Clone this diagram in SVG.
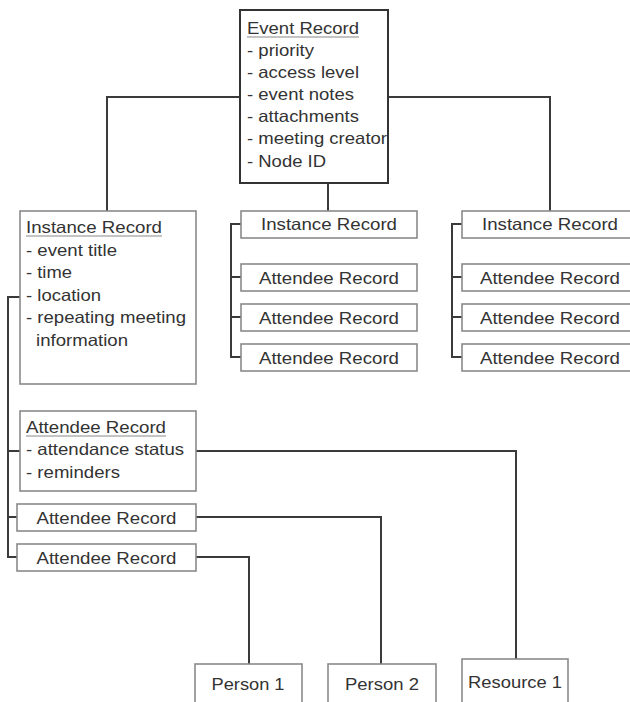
<svg xmlns="http://www.w3.org/2000/svg" width="630" height="702" viewBox="0 0 630 702">
<style>
  .box { fill: #fff; stroke: #8a8a8a; stroke-width: 1.6; }
  .main { fill: #fff; stroke: #333; stroke-width: 2; }
  .t { font-family: "Liberation Sans", Arial, sans-serif; font-size: 16.5px; fill: #333; }
  .c { text-anchor: middle; }
  .ul { stroke: #8a8a8a; stroke-width: 1.2; }
  .conn path { fill: none; stroke: #3a3a3a; stroke-width: 2; }
</style>
<rect width="630" height="702" fill="#fff"/>

<g class="conn" id="connectors">
  <path d="M240,97 H107 V211"/>
  <path d="M388,97 H550 V211"/>
  <path d="M328,183 V211"/>
  <path d="M241,224 H231 V357 H241 M231,277 H241 M231,317 H241"/>
  <path d="M462,224 H452 V357 H462 M452,277 H462 M452,317 H462"/>
  <path d="M20,297 H8 V557 H17 M8,451 H20 M8,517 H17"/>
  <path d="M196,451 H516 V659"/>
  <path d="M196,517 H381 V664"/>
  <path d="M196,557 H249 V664"/>
</g>

<g id="event-record">
  <rect class="main" x="240" y="10" width="148" height="173"/>
  <text class="t" x="247" y="34" textLength="112" lengthAdjust="spacingAndGlyphs">Event Record</text>
  <line class="ul" x1="247" y1="37" x2="359" y2="37"/>
  <text class="t" x="247" y="56" textLength="67" lengthAdjust="spacingAndGlyphs">- priority</text>
  <text class="t" x="247" y="78" textLength="112" lengthAdjust="spacingAndGlyphs">- access level</text>
  <text class="t" x="247" y="100" textLength="107" lengthAdjust="spacingAndGlyphs">- event notes</text>
  <text class="t" x="247" y="122" textLength="112" lengthAdjust="spacingAndGlyphs">- attachments</text>
  <text class="t" x="247" y="144" textLength="140" lengthAdjust="spacingAndGlyphs">- meeting creator</text>
  <text class="t" x="247" y="167" textLength="79" lengthAdjust="spacingAndGlyphs">- Node ID</text>
</g>

<g id="instance-record-detail">
  <rect class="box" x="20" y="211" width="176" height="173"/>
  <text class="t" x="26" y="233" textLength="136" lengthAdjust="spacingAndGlyphs">Instance Record</text>
  <line class="ul" x1="26" y1="236" x2="162" y2="236"/>
  <text class="t" x="26" y="255.5" textLength="91" lengthAdjust="spacingAndGlyphs">- event title</text>
  <text class="t" x="26" y="278" textLength="46" lengthAdjust="spacingAndGlyphs">- time</text>
  <text class="t" x="26" y="300.5" textLength="75" lengthAdjust="spacingAndGlyphs">- location</text>
  <text class="t" x="26" y="323" textLength="160" lengthAdjust="spacingAndGlyphs">- repeating meeting</text>
  <text class="t" x="36" y="345.5" textLength="92" lengthAdjust="spacingAndGlyphs">information</text>
</g>

<g id="instance-record-2">
  <rect class="box" x="241" y="211" width="176" height="27"/>
  <text class="t c" x="329" y="230" textLength="136" lengthAdjust="spacingAndGlyphs">Instance Record</text>
</g>
<g id="attendee-2a">
  <rect class="box" x="241" y="264" width="176" height="27"/>
  <text class="t c" x="329" y="283.5" textLength="140" lengthAdjust="spacingAndGlyphs">Attendee Record</text>
</g>
<g id="attendee-2b">
  <rect class="box" x="241" y="304" width="176" height="27"/>
  <text class="t c" x="329" y="323.5" textLength="140" lengthAdjust="spacingAndGlyphs">Attendee Record</text>
</g>
<g id="attendee-2c">
  <rect class="box" x="241" y="344" width="176" height="27"/>
  <text class="t c" x="329" y="363.5" textLength="140" lengthAdjust="spacingAndGlyphs">Attendee Record</text>
</g>

<g id="instance-record-3">
  <rect class="box" x="462" y="211" width="176" height="27"/>
  <text class="t c" x="550" y="230" textLength="136" lengthAdjust="spacingAndGlyphs">Instance Record</text>
</g>
<g id="attendee-3a">
  <rect class="box" x="462" y="264" width="176" height="27"/>
  <text class="t c" x="550" y="283.5" textLength="140" lengthAdjust="spacingAndGlyphs">Attendee Record</text>
</g>
<g id="attendee-3b">
  <rect class="box" x="462" y="304" width="176" height="27"/>
  <text class="t c" x="550" y="323.5" textLength="140" lengthAdjust="spacingAndGlyphs">Attendee Record</text>
</g>
<g id="attendee-3c">
  <rect class="box" x="462" y="344" width="176" height="27"/>
  <text class="t c" x="550" y="363.5" textLength="140" lengthAdjust="spacingAndGlyphs">Attendee Record</text>
</g>

<g id="attendee-record-detail">
  <rect class="box" x="20" y="411" width="176" height="80"/>
  <text class="t" x="26" y="433" textLength="140" lengthAdjust="spacingAndGlyphs">Attendee Record</text>
  <line class="ul" x1="26" y1="436" x2="166" y2="436"/>
  <text class="t" x="26" y="455" textLength="158" lengthAdjust="spacingAndGlyphs">- attendance status</text>
  <text class="t" x="26" y="477.5" textLength="94" lengthAdjust="spacingAndGlyphs">- reminders</text>
</g>
<g id="attendee-1b">
  <rect class="box" x="17" y="504" width="179" height="27"/>
  <text class="t c" x="106.5" y="523.5" textLength="140" lengthAdjust="spacingAndGlyphs">Attendee Record</text>
</g>
<g id="attendee-1c">
  <rect class="box" x="17" y="544" width="179" height="27"/>
  <text class="t c" x="106.5" y="563.5" textLength="140" lengthAdjust="spacingAndGlyphs">Attendee Record</text>
</g>

<g id="person-1">
  <rect class="box" x="195" y="664" width="107" height="50"/>
  <text class="t c" x="248" y="690" textLength="73" lengthAdjust="spacingAndGlyphs">Person 1</text>
</g>
<g id="person-2">
  <rect class="box" x="328" y="664" width="108" height="50"/>
  <text class="t c" x="382" y="690" textLength="74" lengthAdjust="spacingAndGlyphs">Person 2</text>
</g>
<g id="resource-1">
  <rect class="box" x="462" y="659" width="106" height="55"/>
  <text class="t c" x="515" y="687.5" textLength="94" lengthAdjust="spacingAndGlyphs">Resource 1</text>
</g>
</svg>
